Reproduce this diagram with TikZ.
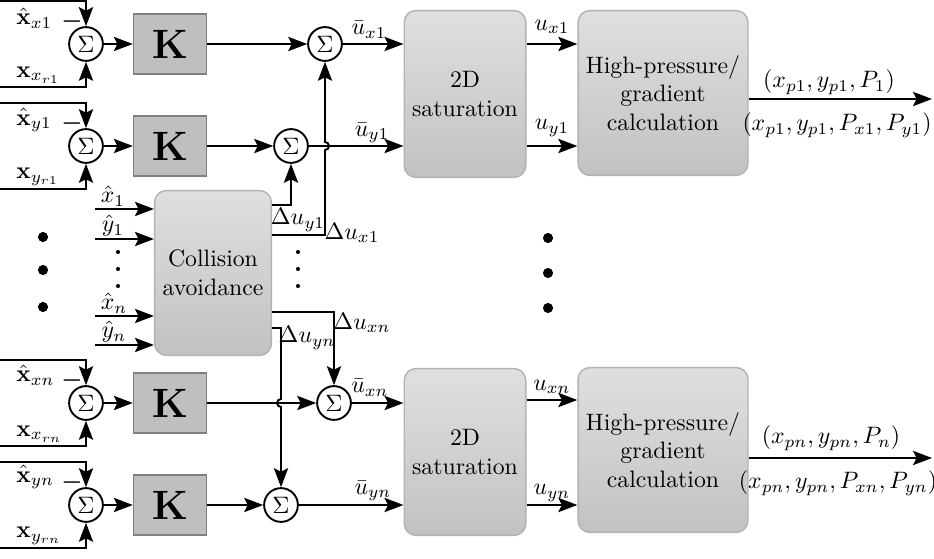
\documentclass[tikz,border=0pt]{standalone}
\usepackage{amsmath}
\usepackage{amssymb}
\usepackage{tikz}
\usetikzlibrary{calc,positioning,arrows.meta}

\begin{document}
\begin{tikzpicture}[x=0.0148cm,y=0.0148cm,
    sumnode/.style={draw,circle,line width=0.8pt,inner sep=0pt,minimum size=0.5cm},
    gain/.style={draw=black!50,fill=gray!50,line width=0.6pt,minimum width=1.08cm,minimum height=0.89cm,font=\fontsize{17}{20}\selectfont},
    block/.style={draw=gray!60,line width=0.6pt,rounded corners=5pt,top color=gray!25,bottom color=gray!48,align=center},
    arr/.style={-{Stealth[length=8pt,width=6pt,inset=1.5pt]},line width=0.8pt},
    inlabel/.style={anchor=south,inner sep=1pt},
    bigdot/.style={fill=black,circle,minimum size=0.15cm,inner sep=0pt},
    smalldot/.style={fill=black,circle,minimum size=0.06cm,inner sep=0pt}]
    \useasboundingbox (0,0) rectangle (934,558);

    % first summing junctions and gains
    \node[sumnode] (sa1) at (86,514) {$\Sigma$};
    \node[sumnode] (sa2) at (86,412) {$\Sigma$};
    \node[sumnode] (sa3) at (86,155) {$\Sigma$};
    \node[sumnode] (sa4) at (86,53) {$\Sigma$};
    \node[gain] (k1) at (170,514) {$\mathbf{K}$};
    \node[gain] (k2) at (170,412) {$\mathbf{K}$};
    \node[gain] (k3) at (170,155) {$\mathbf{K}$};
    \node[gain] (k4) at (170,53) {$\mathbf{K}$};

    % second summing junctions
    \node[sumnode] (sb1) at (325,514) {$\Sigma$};
    \node[sumnode] (sb2) at (291,412) {$\Sigma$};
    \node[sumnode] (sb3) at (334,155) {$\Sigma$};
    \node[sumnode] (sb4) at (281,53) {$\Sigma$};

    % blocks
    \node[block,minimum width=1.67cm,minimum height=2.44cm] (ca) at (213,285) {Collision\\avoidance};
    \node[block,minimum width=1.70cm,minimum height=2.47cm] (sat1) at (465,464) {2D\\saturation};
    \node[block,minimum width=1.70cm,minimum height=2.47cm] (sat2) at (465,106) {2D\\saturation};
    \node[block,minimum width=2.37cm,minimum height=2.44cm] (hp1) at (663,465) {High-pressure/\\gradient\\calculation};
    \node[block,minimum width=2.37cm,minimum height=2.44cm] (hp2) at (663,108) {High-pressure/\\gradient\\calculation};

    % free ends
    \coordinate (ix1) at (0,557);
    \coordinate (rx1) at (0,471);
    \coordinate (iy1) at (0,455);
    \coordinate (ry1) at (0,369);
    \coordinate (ixn) at (0,198);
    \coordinate (rxn) at (0,112);
    \coordinate (iyn) at (0,96);
    \coordinate (ryn) at (0,10);
    \coordinate (cx1) at (95,349);
    \coordinate (cy1) at (95,319);
    \coordinate (cxn) at (95,242);
    \coordinate (cyn) at (95,213);
    \coordinate (out1) at (932,459);
    \coordinate (outn) at (932,100);

    % inputs to first junctions
    \draw[arr] (ix1) -| (sa1.north);
    \draw[arr] (rx1) -| (sa1.south);
    \draw[arr] (iy1) -| (sa2.north);
    \draw[arr] (ry1) -| (sa2.south);
    \draw[arr] (ixn) -| (sa3.north);
    \draw[arr] (rxn) -| (sa3.south);
    \draw[arr] (iyn) -| (sa4.north);
    \draw[arr] (ryn) -| (sa4.south);
    \node[anchor=west] (lix1) at (8,540) {$\hat{\mathbf{x}}_{x1}$};
    \node[anchor=west] (lrx1) at (8,483) {$\mathbf{x}_{x_{r1}}$};
    \node[anchor=west] (liy1) at (8,438) {$\hat{\mathbf{x}}_{y1}$};
    \node[anchor=west] (lry1) at (8,381) {$\mathbf{x}_{y_{r1}}$};
    \node[anchor=west] (lixn) at (8,183) {$\hat{\mathbf{x}}_{xn}$};
    \node[anchor=west] (lrxn) at (8,124) {$\mathbf{x}_{x_{rn}}$};
    \node[anchor=west] (liyn) at (8,81) {$\hat{\mathbf{x}}_{yn}$};
    \node[anchor=west] (lryn) at (8,22) {$\mathbf{x}_{y_{rn}}$};
    \node (m1) at (72,536) {$\boldsymbol{-}$};
    \node (m2) at (72,434) {$\boldsymbol{-}$};
    \node (m3) at (72,177) {$\boldsymbol{-}$};
    \node (m4) at (72,75) {$\boldsymbol{-}$};

    % gains and second junctions
    \draw[arr] (sa1) -- (k1);
    \draw[arr] (sa2) -- (k2);
    \draw[arr] (sa3) -- (k3);
    \draw[arr] (sa4) -- (k4);
    \draw[arr] (k1) -- (sb1);
    \draw[arr] (k2) -- (sb2);
    \draw[arr] (k3) -- (sb3);
    \draw[arr] (k4) -- (sb4);

    % collision avoidance
    \draw[arr] (cx1) -- (cx1 -| ca.west);
    \draw[arr] (cy1) -- (cy1 -| ca.west);
    \draw[arr] (cxn) -- (cxn -| ca.west);
    \draw[arr] (cyn) -- (cyn -| ca.west);
    \node[inlabel] (lcx1) at (113,349) {$\hat{x}_1$};
    \node[inlabel] (lcy1) at (113,319) {$\hat{y}_1$};
    \node[inlabel] (lcxn) at (114,242) {$\hat{x}_n$};
    \node[inlabel] (lcyn) at (114,213) {$\hat{y}_n$};
    \draw[arr] (ca.east |- 0,353) -| (sb2.south);
    \draw[arr] (ca.east |- 0,323) -| ($(sb1 |- sb2)+(0,-4)$) arc (-90:90:4) -- (sb1.south);
    \draw[arr] (ca.east |- 0,246) -| (sb3.north);
    \draw[arr] (ca.east |- 0,230) -| ($(sb4 |- sb3)+(0,4)$) arc (90:270:4) -- (sb4.north);
    \node (ldy1) at (298,338) {$\Delta u_{y1}$};
    \node (ldx1) at (352,325) {$\Delta u_{x1}$};
    \node (ldxn) at (362,235) {$\Delta u_{xn}$};
    \node (ldyn) at (307,220) {$\Delta u_{yn}$};

    % saturation and calculation
    \draw[arr] (sb1) -- (sb1 -| sat1.west);
    \draw[arr] (sb2) -- (sb2 -| sat1.west);
    \draw[arr] (sb3) -- (sb3 -| sat2.west);
    \draw[arr] (sb4) -- (sb4 -| sat2.west);
    \node (lbx1) at (369,528) {$\bar{u}_{x1}$};
    \node (lby1) at (372,425) {$\bar{u}_{y1}$};
    \node (lbxn) at (370,170) {$\bar{u}_{xn}$};
    \node (lbyn) at (373,67) {$\bar{u}_{yn}$};
    \draw[arr] (sat1.east |- sb1) -- (hp1.west |- sb1);
    \draw[arr] (sat1.east |- sb2) -- (hp1.west |- sb2);
    \draw[arr] (sat2.east |- 0,158) -- (hp2.west |- 0,158);
    \draw[arr] (sat2.east |- sb4) -- (hp2.west |- sb4);
    \node (lux1) at (552,531) {$u_{x1}$};
    \node (luy1) at (552,430) {$u_{y1}$};
    \node (luxn) at (552,171) {$u_{xn}$};
    \node (luyn) at (552,65) {$u_{yn}$};

    % outputs
    \draw[arr] (hp1.east |- out1) -- (out1);
    \draw[arr] (hp2.east |- outn) -- (outn);
    \node (lo1) at (829,476) {$(x_{p1},y_{p1},P_{1})$};
    \node (lo1b) at (837,433) {$(x_{p1},y_{p1},P_{x1},P_{y1})$};
    \node (lon) at (831,120) {$(x_{pn},y_{pn},P_{n})$};
    \node (lonb) at (838,75) {$(x_{pn},y_{pn},P_{xn},P_{yn})$};

    % dots
    \node[bigdot] (d1) at (43,321) {};
    \node[bigdot] (d2) at (43,288) {};
    \node[bigdot] (d3) at (43,251) {};
    \node[bigdot] (d4) at (548,320) {};
    \node[bigdot] (d5) at (548,285) {};
    \node[bigdot] (d6) at (548,250) {};
    \node[smalldot] (e1) at (118,306) {};
    \node[smalldot] (e2) at (118,289) {};
    \node[smalldot] (e3) at (118,272) {};
    \node[smalldot] (e4) at (298,306) {};
    \node[smalldot] (e5) at (298,289) {};
    \node[smalldot] (e6) at (298,272) {};
\end{tikzpicture}
\end{document}
